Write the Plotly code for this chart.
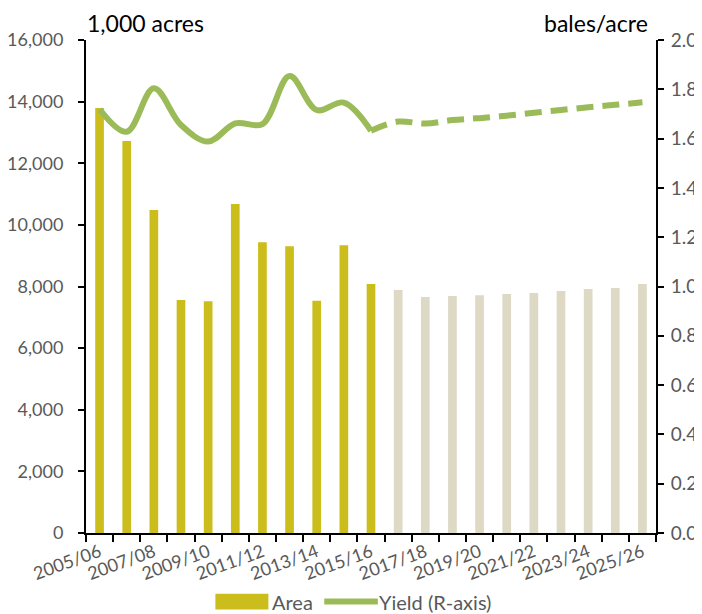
import plotly.graph_objects as go

seasons = ["2005/06", "2006/07", "2007/08", "2008/09", "2009/10", "2010/11", "2011/12",
           "2012/13", "2013/14", "2014/15", "2015/16", "2016/17", "2017/18", "2018/19",
           "2019/20", "2020/21", "2021/22", "2022/23", "2023/24", "2024/25", "2025/26"]
area_hist = [13790, 12720, 10480, 7560, 7520, 10680, 9440, 9310, 7540, 9340, 8080]
area_proj = [7890, 7660, 7690, 7720, 7760, 7790, 7850, 7920, 7950, 8080]
yield_hist = [1.719, 1.628, 1.804, 1.655, 1.588, 1.662, 1.659, 1.854, 1.716, 1.746, 1.632]
yield_proj = [1.669, 1.661, 1.675, 1.683, 1.693, 1.705, 1.716, 1.727, 1.737, 1.747]
left_ticks = [0, 2000, 4000, 6000, 8000, 10000, 12000, 14000, 16000]
right_ticks = [0.0, 0.2, 0.4, 0.6, 0.8, 1.0, 1.2, 1.4, 1.6, 1.8, 2.0]

n_hist = len(area_hist)
idx = list(range(len(seasons)))
x_hist = idx[:n_hist]
x_proj = idx[n_hist:]

GOLD = "#CBBE1C"
BEIGE = "#DDD9C4"
GREEN = "#9BBB59"
GREY = "#595959"
FONT = "Lato"

fig = go.Figure()
fig.add_trace(go.Bar(x=x_hist, y=area_hist, name="Area", marker=dict(color=GOLD, line=dict(width=0)),
                     width=0.32, showlegend=False))
fig.add_trace(go.Bar(x=x_proj, y=area_proj, name="Area (projected)", marker=dict(color=BEIGE, line=dict(width=0)),
                     width=0.32, showlegend=False))
fig.add_trace(go.Scatter(x=x_hist, y=yield_hist, name="Yield (R-axis)", mode="lines", yaxis="y2",
                         line=dict(color=GREEN, width=6, shape="spline", smoothing=1.0), showlegend=False))
fig.add_trace(go.Scatter(x=[x_hist[-1]] + x_proj, y=[yield_hist[-1]] + yield_proj, name="Yield projected",
                         mode="lines", yaxis="y2",
                         line=dict(color=GREEN, width=6, shape="spline", smoothing=1.0, dash="17px,9px"),
                         showlegend=False))

# legend drawn as shapes + text below the plot (paper coordinates)
leg_y = -0.139
fig.add_shape(type="rect", xref="paper", yref="paper", x0=0.227, x1=0.320,
              y0=leg_y - 0.016, y1=leg_y + 0.016, fillcolor=GOLD, line=dict(width=0))
fig.add_shape(type="line", xref="paper", yref="paper", x0=0.418, x1=0.512,
              y0=leg_y, y1=leg_y, line=dict(color=GREEN, width=6))

# the page body has an 8px margin, so the figure is sized to fit the window after that offset
fig.update_layout(
    width=694, height=606,
    margin=dict(l=78, r=46, t=32, b=81, autoexpand=False),
    plot_bgcolor="white", paper_bgcolor="white",
    barmode="overlay",
    showlegend=False,
    font=dict(family=FONT, color=GREY, size=18),
    xaxis=dict(
        range=[-0.5, len(seasons) - 0.5],
        tickmode="array",
        tickvals=idx[::2],
        ticktext=seasons[::2],
        tickangle=-20,
        ticks="",
        ticklen=0,
        automargin=False,
        showline=True, linecolor="black", linewidth=2,
        showgrid=False, zeroline=False,
        tickfont=dict(family=FONT, size=18, color=GREY),
        minor=dict(tickmode="array", tickvals=[i - 0.5 for i in range(len(seasons) + 1)],
                   ticks="outside", ticklen=7, tickwidth=2, tickcolor="black", showgrid=False),
    ),
    yaxis=dict(
        range=[0, 16000], tickmode="array", tickvals=left_ticks,
        tickformat=",", ticks="outside", ticklen=6, tickwidth=2, tickcolor="black",
        showline=True, linecolor="black", linewidth=2,
        showgrid=False, zeroline=False, automargin=False,
        tickfont=dict(family=FONT, size=18, color=GREY),
        ticklabelstandoff=11,
    ),
    yaxis2=dict(
        range=[0, 2], tickmode="array", tickvals=right_ticks,
        tickformat=".1f", overlaying="y", side="right",
        ticks="outside", ticklen=6, tickwidth=2, tickcolor="black",
        showline=True, linecolor="black", linewidth=2,
        showgrid=False, zeroline=False, automargin=False,
        tickfont=dict(family=FONT, size=19, color=GREY),
        ticklabelstandoff=3,
    ),
    annotations=[
        dict(text="1,000 acres", xref="paper", yref="paper", x=0.0, y=1.035, xanchor="left",
             yanchor="middle", showarrow=False, borderpad=0, font=dict(family=FONT, size=23, color="black")),
        dict(text="bales/acre", xref="paper", yref="paper", x=0.987, y=1.035, xanchor="right",
             yanchor="middle", showarrow=False, borderpad=0, font=dict(family=FONT, size=23, color="black")),
        dict(text="Area", xref="paper", yref="paper", x=0.324, y=leg_y, xanchor="left",
             yanchor="middle", showarrow=False, borderpad=0, font=dict(family=FONT, size=20, color=GREY)),
        dict(text="Yield (R-axis)", xref="paper", yref="paper", x=0.512, y=leg_y, xanchor="left",
             yanchor="middle", showarrow=False, borderpad=0, font=dict(family=FONT, size=20, color=GREY)),
    ],
)

fig.write_html("out.html")
